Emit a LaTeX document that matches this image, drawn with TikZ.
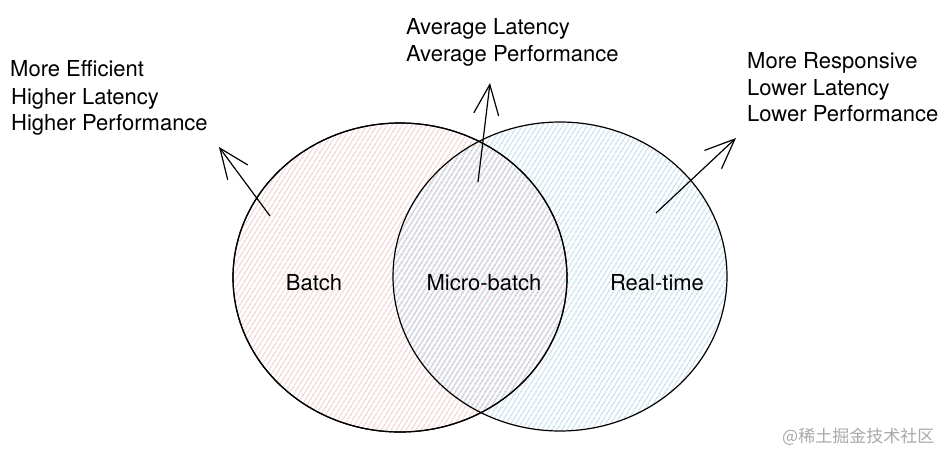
\documentclass[tikz,border=0pt]{standalone}
\usepackage{fontspec}
\setmainfont{TeX Gyre Heros}
\newfontfamily\cjkfont{Noto Sans CJK SC}
\usetikzlibrary{patterns.meta,arrows.meta,shapes.geometric}
\definecolor{pinkhatch}{HTML}{E29C9C}
\definecolor{bluehatch}{HTML}{7DB9D8}
\definecolor{wmgray}{HTML}{A8A8A8}
\begin{document}
\begin{tikzpicture}[x=1pt,y=-1pt,
  lbl/.style={font=\fontsize{22}{26}\selectfont, anchor=base west, inner sep=0pt},
  clbl/.style={font=\fontsize{22}{26}\selectfont, anchor=base, inner sep=0pt},
  setshape/.style={ellipse, draw=black, line width=1.2pt, inner sep=0pt,
    minimum width=334pt, minimum height=309pt},
  hatch/.style={pattern={Lines[angle=58,distance=4pt,line width=0.8pt]}},
  arr/.style={line width=1.2pt, -{Straight Barb[length=30pt,width=25pt,line width=1.2pt]}}]
\useasboundingbox (0,0) rectangle (947,452);
% sets
\node[setshape, hatch, pattern color=pinkhatch] (batch) at (400,277.5) {};
\node[setshape, hatch, pattern color=bluehatch] (rt) at (560,276.5) {};
\draw[line width=1.2pt] (batch.center) ellipse [x radius=167, y radius=154.5];
% labels
\node[clbl] (lb) at (314,290) {Batch};
\node[clbl] (lm) at (484,290) {Micro-batch};
\node[clbl] (lr) at (657,290) {Real-time};
% arrows
\coordinate (a1s) at (270,216);
\coordinate (a1e) at (219,147);
\coordinate (a2s) at (478,182);
\coordinate (a2e) at (490,83);
\coordinate (a3s) at (656,213);
\coordinate (a3e) at (736,138);
\draw[arr] (a1s) -- (a1e);
\draw[arr] (a2s) -- (a2e);
\draw[arr] (a3s) -- (a3e);
% text blocks
\node[lbl] (t11) at (10,76) {More Efficient};
\node[lbl] (t12) at (11,104) {Higher Latency};
\node[lbl] (t13) at (11,130) {Higher Performance};
\node[lbl] (t21) at (406,35) {Average Latency};
\node[lbl] (t22) at (406,61) {Average Performance};
\node[lbl] (t31) at (747,69) {More Responsive};
\node[lbl] (t32) at (747,95) {Lower Latency};
\node[lbl] (t33) at (747,121) {Lower Performance};
% watermark
\node[anchor=base west, inner sep=0pt, text=wmgray, font=\cjkfont\fontsize{17}{20}\selectfont] (wm) at (782,442) {@稀土掘金技术社区};
\end{tikzpicture}
\end{document}
